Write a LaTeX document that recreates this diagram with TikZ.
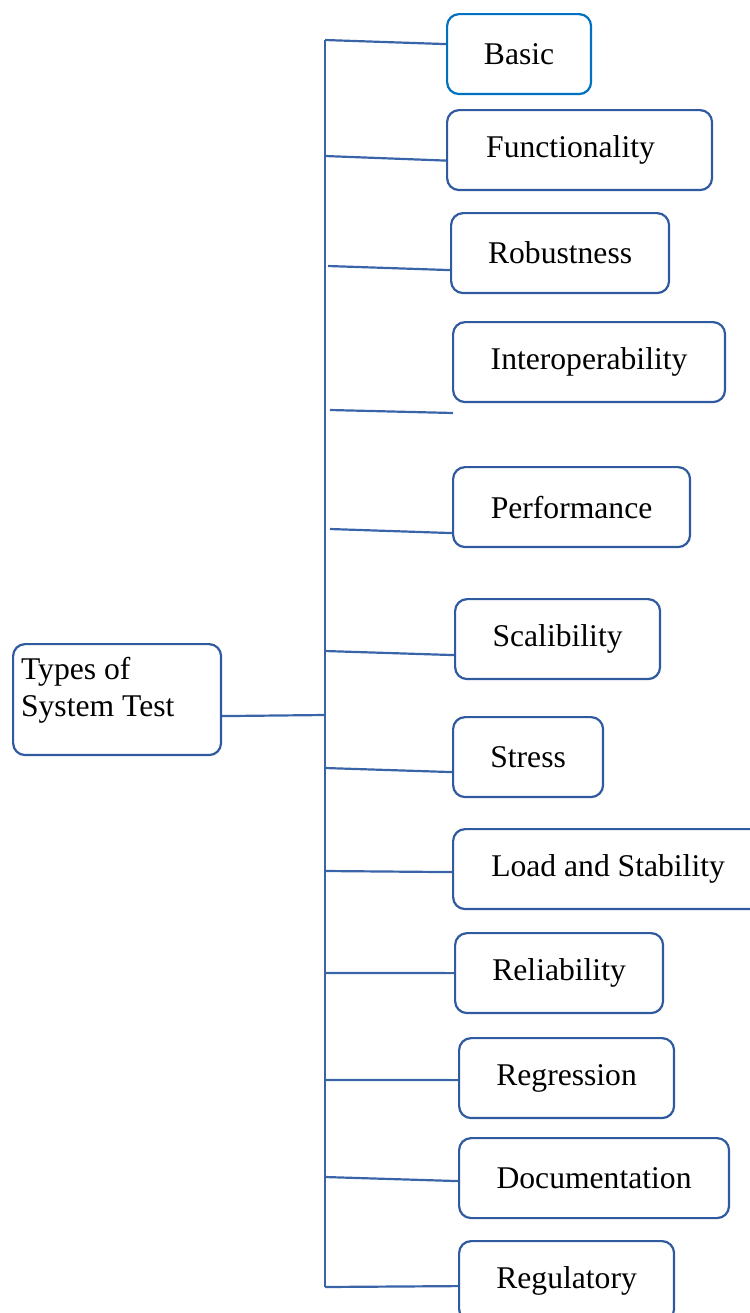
\documentclass[tikz,border=0pt]{standalone}
\usepackage{fontspec}
\setmainfont{Liberation Serif}
\usepackage{xcolor}
\usepackage{tikz}
\usetikzlibrary{positioning, calc}

\definecolor{boxblue}{RGB}{47,90,160}
\definecolor{basicblue}{RGB}{0,112,192}
\definecolor{lineblue}{RGB}{58,100,168}

\tikzset{
  testbox/.style = {draw=boxblue, line width=1.25pt, rounded corners=0.24cm,
    anchor=north west, minimum height=1.6cm, inner sep=0pt,
    font=\fontsize{18}{21}\selectfont},
  branch/.style = {draw=lineblue, line width=1.25pt}
}

\begin{document}
\begin{tikzpicture}[x=0.02cm, y=-0.02cm]

\useasboundingbox (0, 0) rectangle (750, 1313);
\clip (0, 0) rectangle (750, 1313);

% Root box
\node [testbox, minimum width=4.16cm, minimum height=2.22cm, inner xsep=0.16cm, inner ysep=0.26cm]
  (root) at (12, 643) {\parbox[c][1.7cm][t]{3.84cm}{Types of\\System Test}};

% Test types
\node [testbox, draw=basicblue, minimum width=2.88cm] (basic) at (446, 13) {Basic};
\node [testbox, minimum width=5.3cm] (func) at (446, 109) {\hspace*{-0.36cm}Functionality};
\node [testbox, minimum width=4.36cm] (robust) at (450, 212) {Robustness};
\node [testbox, minimum width=5.44cm] (interop) at (452, 321) {Interoperability};
\node [testbox, minimum width=4.74cm] (perf) at (452, 466) {Performance};
\node [testbox, minimum width=4.1cm] (scal) at (454, 598) {Scalibility};
\node [testbox, minimum width=3.0cm] (stress) at (452, 716) {Stress};
\node [testbox, minimum width=6.2cm] (load) at (452, 828) {Load and Stability};
\node [testbox, minimum width=4.16cm] (reliab) at (454, 932) {Reliability};
\node [testbox, minimum width=4.3cm] (regress) at (458, 1037) {Regression};
\node [testbox, minimum width=5.4cm] (docu) at (458, 1137) {Documentation};
\node [testbox, minimum width=4.3cm] (regul) at (458, 1240) {Regulatory};

% Trunk
\coordinate (ttop) at (325, 40);
\coordinate (tbot) at (325, 1287);
\coordinate (troot) at (325, 715);
\draw [branch] (ttop) -- (tbot);
\draw [branch] ([yshift=-0.33cm]root.east) -- (troot);

% Branches
\coordinate (t1) at (325, 40);
\coordinate (t2) at (325, 156);
\coordinate (t3) at (328, 266);
\coordinate (t4) at (330, 410);
\coordinate (t4end) at (453, 413);
\coordinate (t5) at (330, 529);
\coordinate (t6) at (325, 651);
\coordinate (t7) at (325, 768);
\coordinate (t8) at (325, 871);
\coordinate (t9) at (325, 973);
\coordinate (t10) at (325, 1080);
\coordinate (t11) at (325, 1177);
\coordinate (t12) at (325, 1287);

\draw [branch] (t1) -- ([yshift=0.2cm]basic.west);
\draw [branch] (t2) -- ([yshift=-0.21cm]func.west);
\draw [branch] (t3) -- ([yshift=-0.34cm]robust.west);
\draw [branch] (t4) -- (t4end);
\draw [branch] (t5) -- ([yshift=-0.52cm]perf.west);
\draw [branch] (t6) -- ([yshift=-0.32cm]scal.west);
\draw [branch] (t7) -- ([yshift=-0.3cm]stress.west);
\draw [branch] (t8) -- ([yshift=-0.06cm]load.west);
\draw [branch] (t9) -- (reliab.west);
\draw [branch] (t10) -- ([yshift=-0.04cm]regress.west);
\draw [branch] (t11) -- ([yshift=-0.06cm]docu.west);
\draw [branch] (t12) -- ([yshift=-0.1cm]regul.west);

\end{tikzpicture}
\end{document}
